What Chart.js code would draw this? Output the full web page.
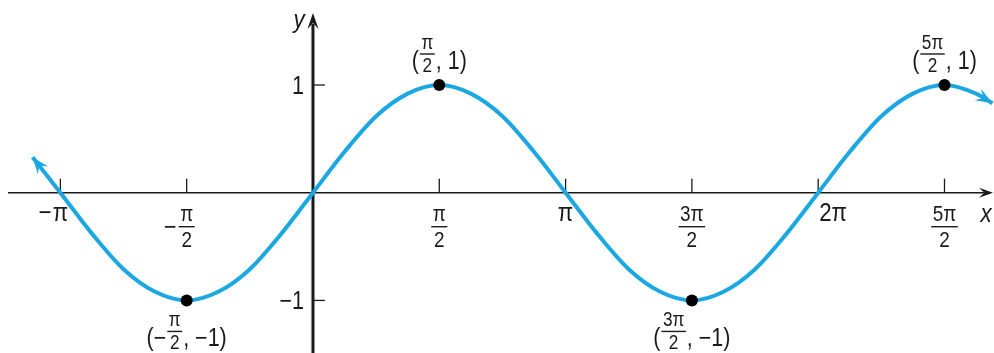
<!DOCTYPE html>
<html>
<head>
<meta charset="utf-8">
<script src="https://cdn.jsdelivr.net/npm/chart.js@4/dist/chart.umd.min.js"></script>
<style>
  html, body { margin: 0; padding: 0; background: #fff; }
  #wrap { width: 994px; height: 353px; }
</style>
</head>
<body>
<div id="wrap"><canvas id="chart"></canvas></div>
<script>
// x values are in multiples of π
const curveX = [-1.11, -1, -0.875, -0.75, -0.625, -0.5, -0.375, -0.25, -0.125, 0,
  0.125, 0.25, 0.375, 0.5, 0.625, 0.75, 0.875, 1, 1.125, 1.25, 1.375, 1.5,
  1.625, 1.75, 1.875, 2, 2.125, 2.25, 2.375, 2.5, 2.625, 2.69];
const curveY = [0.33, 0, -0.38, -0.71, -0.92, -1, -0.92, -0.71, -0.38, 0,
  0.38, 0.71, 0.92, 1, 0.92, 0.71, 0.38, 0, -0.38, -0.71, -0.92, -1,
  -0.92, -0.71, -0.38, 0, 0.38, 0.71, 0.92, 1, 0.92, 0.83];

const markX = [-0.5, 0.5, 1.5, 2.5];
const markY = [-1, 1, -1, 1];
const markLabels = [
  { pre: "(−", num: "π", den: "2", post: ", −1)" },
  { pre: "(", num: "π", den: "2", post: ", 1)" },
  { pre: "(", num: "3π", den: "2", post: ", −1)" },
  { pre: "(", num: "5π", den: "2", post: ", 1)" }
];

const xTickValues = [-1, -0.5, 0.5, 1, 1.5, 2, 2.5];
const xTickLabels = [
  { pre: "−", main: "π" },
  { pre: "−", num: "π", den: "2" },
  { num: "π", den: "2" },
  { main: "π" },
  { num: "3π", den: "2" },
  { main: "2π", left: true },
  { num: "5π", den: "2" }
];
const yTickValues = [1, -1];
const yTickLabels = ["1", "−1"];

const FONT = '"Liberation Sans", Arial, sans-serif';
const SQUEEZE = 0.86; // reference type is a condensed face
const BLUE = "#1ba8e2";
const INK = "#1a1a1a";

// condensed text helpers
function tw(ctx, s) { return ctx.measureText(s).width * SQUEEZE; }
function txt(ctx, s, x, y, align) {
  const w = tw(ctx, s);
  let left = x;
  if (align === "center") left = x - w / 2;
  else if (align === "right") left = x - w;
  ctx.save();
  ctx.translate(left, y);
  ctx.scale(SQUEEZE, 1);
  ctx.textAlign = "left";
  ctx.fillText(s, 0, 0);
  ctx.restore();
}

// stacked fraction, bar at y; returns bar width
function drawFrac(ctx, cx, y, num, den, size) {
  ctx.font = `${size}px ${FONT}`;
  const w = Math.max(tw(ctx, num), tw(ctx, den)) + 3;
  ctx.textBaseline = "alphabetic";
  txt(ctx, num, cx, y - 0.25 * size, "center");
  txt(ctx, den, cx, y + 0.9 * size, "center");
  ctx.fillRect(cx - w / 2, y - 0.7, w, 1.4);
  return w;
}

function arrowHead(ctx, tipX, tipY, fromX, fromY, len, half) {
  const a = Math.atan2(tipY - fromY, tipX - fromX);
  ctx.save();
  ctx.translate(tipX, tipY);
  ctx.rotate(a);
  ctx.beginPath();
  ctx.moveTo(0, 0);
  ctx.lineTo(-len, -half);
  ctx.lineTo(-len * 0.62, 0);
  ctx.lineTo(-len, half);
  ctx.closePath();
  ctx.fill();
  ctx.restore();
}

const sketch = {
  id: "sketch",
  beforeDatasetsDraw(chart) {
    const { ctx, scales: { x, y } } = chart;
    const x0 = x.getPixelForValue(0), y0 = y.getPixelForValue(0);
    ctx.save();
    ctx.fillStyle = INK;
    ctx.strokeStyle = INK;
    // x axis
    ctx.lineWidth = 1.5;
    ctx.beginPath();
    ctx.moveTo(8, y0);
    ctx.lineTo(984, y0);
    ctx.stroke();
    arrowHead(ctx, 993, y0, 900, y0, 14, 5);
    // y axis
    ctx.lineWidth = 3;
    ctx.beginPath();
    ctx.moveTo(x0, 353);
    ctx.lineTo(x0, 24);
    ctx.stroke();
    arrowHead(ctx, x0, 13, x0, 100, 16, 5.5);
    // ticks
    ctx.lineWidth = 1.3;
    xTickValues.forEach(v => {
      const px = x.getPixelForValue(v);
      ctx.beginPath();
      ctx.moveTo(px, y0 - 14);
      ctx.lineTo(px, y0);
      ctx.stroke();
    });
    yTickValues.forEach(v => {
      const py = y.getPixelForValue(v);
      ctx.beginPath();
      ctx.moveTo(x0, py);
      ctx.lineTo(x0 + 12, py);
      ctx.stroke();
    });
    ctx.restore();
  },
  afterDatasetsDraw(chart) {
    const { ctx } = chart;
    const pts = chart.getDatasetMeta(0).data;
    const first = pts[0], last = pts[pts.length - 1];
    ctx.save();
    ctx.fillStyle = BLUE;
    const fx = first.cp2x ?? pts[1].x, fy = first.cp2y ?? pts[1].y;
    const lx = last.cp1x ?? pts[pts.length - 2].x, ly = last.cp1y ?? pts[pts.length - 2].y;
    arrowHead(ctx, first.x, first.y, fx, fy, 17, 6.5);
    arrowHead(ctx, last.x, last.y, lx, ly, 17, 6.5);
    ctx.restore();
  },
  afterDraw(chart) {
    const { ctx, scales: { x, y } } = chart;
    const x0 = x.getPixelForValue(0), y0 = y.getPixelForValue(0);
    ctx.save();
    ctx.fillStyle = INK;
    ctx.textBaseline = "alphabetic";

    // x tick labels
    xTickValues.forEach((v, i) => {
      const lab = xTickLabels[i];
      const px = x.getPixelForValue(v);
      if (lab.num) {
        const w = drawFrac(ctx, px, y0 + 34, lab.num, lab.den, 22);
        if (lab.pre) {
          ctx.font = `25px ${FONT}`;
          txt(ctx, lab.pre, px - w / 2 - 2, y0 + 42, "right");
        }
      } else {
        ctx.font = `26px ${FONT}`;
        if (lab.left) {
          txt(ctx, lab.main, px + 1, y0 + 28, "left");
        } else {
          txt(ctx, lab.main, px, y0 + 28, "center");
          if (lab.pre) {
            txt(ctx, lab.pre, px - tw(ctx, lab.main) / 2 - 1, y0 + 28, "right");
          }
        }
      }
    });

    // y tick labels
    ctx.font = `25px ${FONT}`;
    yTickValues.forEach((v, i) => {
      txt(ctx, yTickLabels[i], x0 - 9, y.getPixelForValue(v) + 9, "right");
    });

    // axis names
    ctx.font = `italic 26px ${FONT}`;
    txt(ctx, "y", x0 - 14, 28, "center");
    txt(ctx, "x", 986, y0 + 29, "center");

    // point labels
    markX.forEach((v, i) => {
      const lab = markLabels[i];
      const px = x.getPixelForValue(v);
      const py = y.getPixelForValue(markY[i]);
      const bar = markY[i] > 0 ? py - 31 : py + 31;
      ctx.font = `25px ${FONT}`;
      const wPre = tw(ctx, lab.pre);
      const wPost = tw(ctx, lab.post);
      ctx.font = `20px ${FONT}`;
      const wFrac = Math.max(tw(ctx, lab.num), tw(ctx, lab.den)) + 3;
      const total = wPre + wFrac + wPost + 2;
      let cx = px - total / 2;
      ctx.font = `25px ${FONT}`;
      txt(ctx, lab.pre, cx, bar + 15, "left");
      cx += wPre + 1;
      drawFrac(ctx, cx + wFrac / 2, bar, lab.num, lab.den, 20);
      cx += wFrac + 1;
      ctx.font = `25px ${FONT}`;
      txt(ctx, lab.post, cx, bar + 15, "left");
    });
    ctx.restore();
  }
};

new Chart(document.getElementById("chart"), {
  type: "line",
  data: {
    datasets: [
      {
        data: curveX.map((v, i) => ({ x: v, y: curveY[i] })),
        borderColor: BLUE,
        borderWidth: 4,
        pointRadius: 0,
        cubicInterpolationMode: "monotone",
        fill: false,
        order: 2
      },
      {
        data: markX.map((v, i) => ({ x: v, y: markY[i] })),
        showLine: false,
        pointRadius: 6,
        pointBackgroundColor: "#000",
        pointBorderWidth: 0,
        order: 1
      }
    ]
  },
  options: {
    responsive: true,
    maintainAspectRatio: false,
    animation: false,
    layout: { padding: 0, autoPadding: false },
    plugins: { legend: { display: false }, tooltip: { enabled: false } },
    scales: {
      x: { type: "linear", display: false, min: -1.239, max: 2.696 },
      y: { type: "linear", display: false, min: -1.488, max: 1.789 }
    }
  },
  plugins: [sketch]
});
</script>
</body>
</html>
